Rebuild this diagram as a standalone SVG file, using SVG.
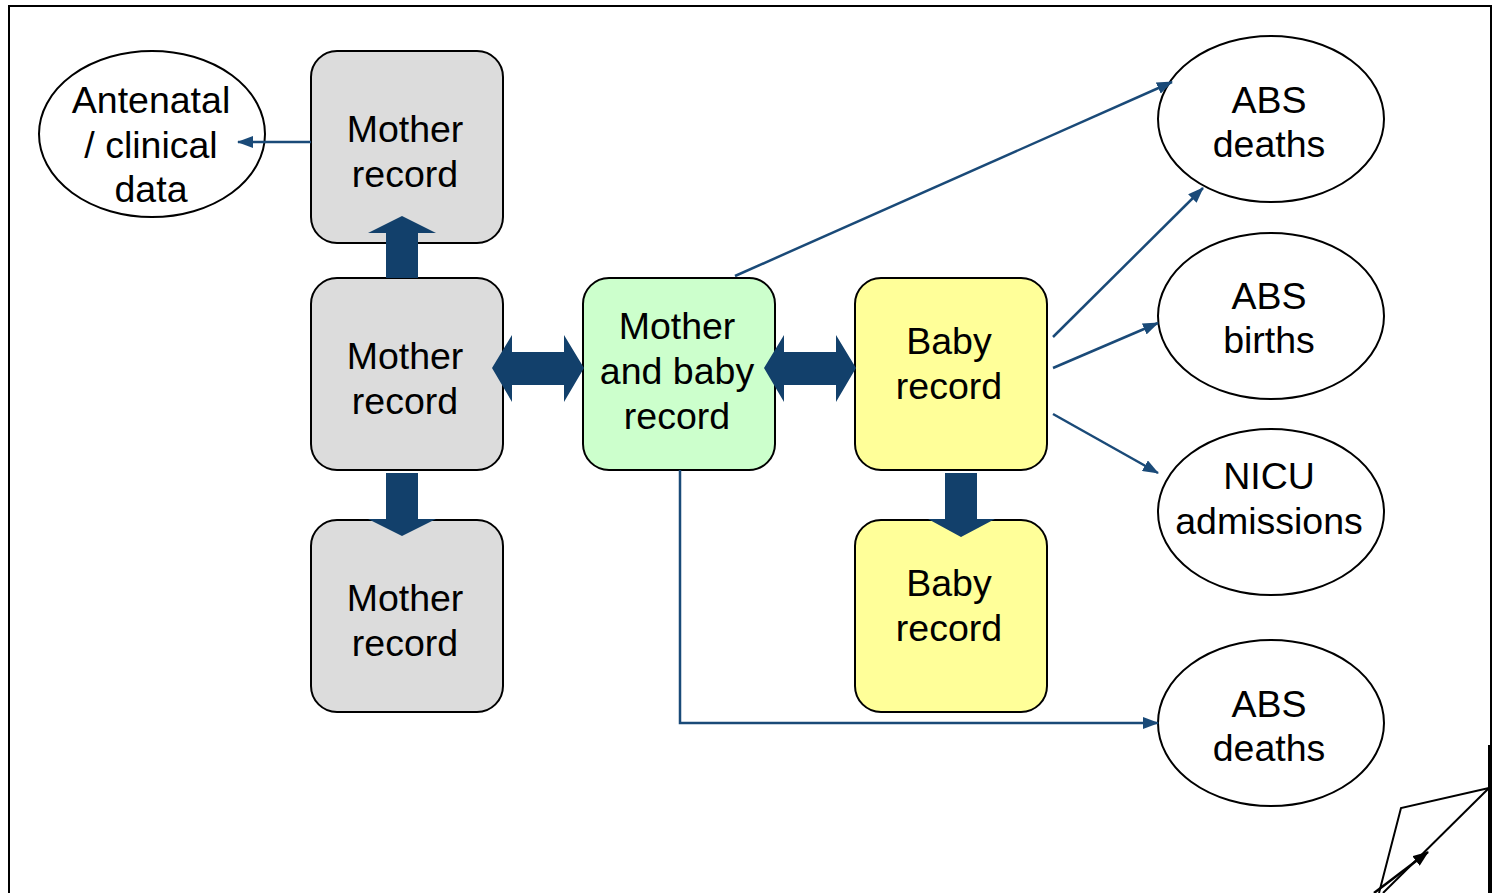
<svg xmlns="http://www.w3.org/2000/svg" width="1498" height="893" viewBox="0 0 1498 893">
<defs>
<style>
.t{font-family:"Liberation Sans",Arial,sans-serif;font-size:37.5px;fill:#000;text-anchor:middle}
.box{stroke:#000;stroke-width:2}
.grey{fill:#dcdcdc}
.green{fill:#ccffcc}
.yellow{fill:#ffff99}
.ell{fill:#fff;stroke:#000;stroke-width:2}
.blk{fill:#12406b}
.con{fill:none;stroke:#1a4a78;stroke-width:2.5}
</style>
<marker id="ak" viewBox="0 0 16 12" refX="15" refY="6" markerWidth="16" markerHeight="12" orient="auto" markerUnits="userSpaceOnUse">
<path d="M0,0 L16,6 L0,12 z" fill="#1a4a78"/>
</marker>
<marker id="ab" viewBox="0 0 16 12" refX="15" refY="6" markerWidth="16" markerHeight="12" orient="auto" markerUnits="userSpaceOnUse">
<path d="M0,0 L16,6 L0,12 z" fill="#000"/>
</marker>
</defs>
<rect width="1498" height="893" fill="#fff"/>
<g id="frame" fill="none" stroke="#000">
<path d="M9,893 V6 H1491 V745" stroke-width="2"/>
<path d="M1490,745 V893" stroke-width="4"/>
<path d="M1489,788 L1401,808 L1379,893" stroke-width="2"/>
<path d="M1489,788 L1383,893" stroke-width="2"/>
<path d="M1374,893 L1428,852" stroke-width="2.5" marker-end="url(#ab)"/>
</g>
<g id="antenatal">
<ellipse class="ell" cx="152" cy="134" rx="113" ry="83"/>
<text class="t" x="151" y="113">Antenatal</text>
<text class="t" x="151" y="158">/ clinical</text>
<text class="t" x="151" y="202">data</text>
</g>
<g id="mother1">
<rect class="box grey" x="311" y="51" width="192" height="192" rx="26"/>
<text class="t" x="405" y="142">Mother</text>
<text class="t" x="405" y="187">record</text>
</g>
<g id="mother2">
<rect class="box grey" x="311" y="278" width="192" height="192" rx="26"/>
<text class="t" x="405" y="369">Mother</text>
<text class="t" x="405" y="414">record</text>
</g>
<g id="mother3">
<rect class="box grey" x="311" y="520" width="192" height="192" rx="26"/>
<text class="t" x="405" y="611">Mother</text>
<text class="t" x="405" y="656">record</text>
</g>
<g id="motherbaby">
<rect class="box green" x="583" y="278" width="192" height="192" rx="26"/>
<text class="t" x="677" y="339">Mother</text>
<text class="t" x="677" y="384">and baby</text>
<text class="t" x="677" y="429">record</text>
</g>
<g id="baby1">
<rect class="box yellow" x="855" y="278" width="192" height="192" rx="26"/>
<text class="t" x="949" y="354">Baby</text>
<text class="t" x="949" y="399">record</text>
</g>
<g id="baby2">
<rect class="box yellow" x="855" y="520" width="192" height="192" rx="26"/>
<text class="t" x="949" y="596">Baby</text>
<text class="t" x="949" y="641">record</text>
</g>
<g id="absdeaths1">
<ellipse class="ell" cx="1271" cy="119" rx="113" ry="83"/>
<text class="t" x="1269" y="113">ABS</text>
<text class="t" x="1269" y="157">deaths</text>
</g>
<g id="absbirths">
<ellipse class="ell" cx="1271" cy="316" rx="113" ry="83"/>
<text class="t" x="1269" y="309">ABS</text>
<text class="t" x="1269" y="353">births</text>
</g>
<g id="nicu">
<ellipse class="ell" cx="1271" cy="512" rx="113" ry="83"/>
<text class="t" x="1269" y="489">NICU</text>
<text class="t" x="1269" y="534">admissions</text>
</g>
<g id="absdeaths2">
<ellipse class="ell" cx="1271" cy="723" rx="113" ry="83"/>
<text class="t" x="1269" y="717">ABS</text>
<text class="t" x="1269" y="761">deaths</text>
</g>
<g id="connectors">
<path class="con" d="M311,142 H238" marker-end="url(#ak)"/>
<path class="con" d="M735,276 L1172,82" marker-end="url(#ak)"/>
<path class="con" d="M1053,337 L1203,188" marker-end="url(#ak)"/>
<path class="con" d="M1053,368 L1158,323" marker-end="url(#ak)"/>
<path class="con" d="M1053,414 L1158,473" marker-end="url(#ak)"/>
<path class="con" d="M680,470 V723 H1158" marker-end="url(#ak)"/>
</g>
<g id="blockarrows">
<path class="blk" d="M386,278 V233 H368 L402,216 L436,233 H418 V278 Z"/>
<path class="blk" d="M386,473 V519 H368 L402,536 L436,519 H418 V473 Z"/>
<path class="blk" d="M945,473 V519 H928 L961,537 L995,519 H977 V473 Z"/>
<path class="blk" d="M492,368 L512,335 V352 H564 V335 L584,368 L564,402 V385 H512 V402 Z"/>
<path class="blk" d="M764,368 L784,335 V352 H836 V335 L856,368 L836,402 V385 H784 V402 Z"/>
</g>
</svg>
